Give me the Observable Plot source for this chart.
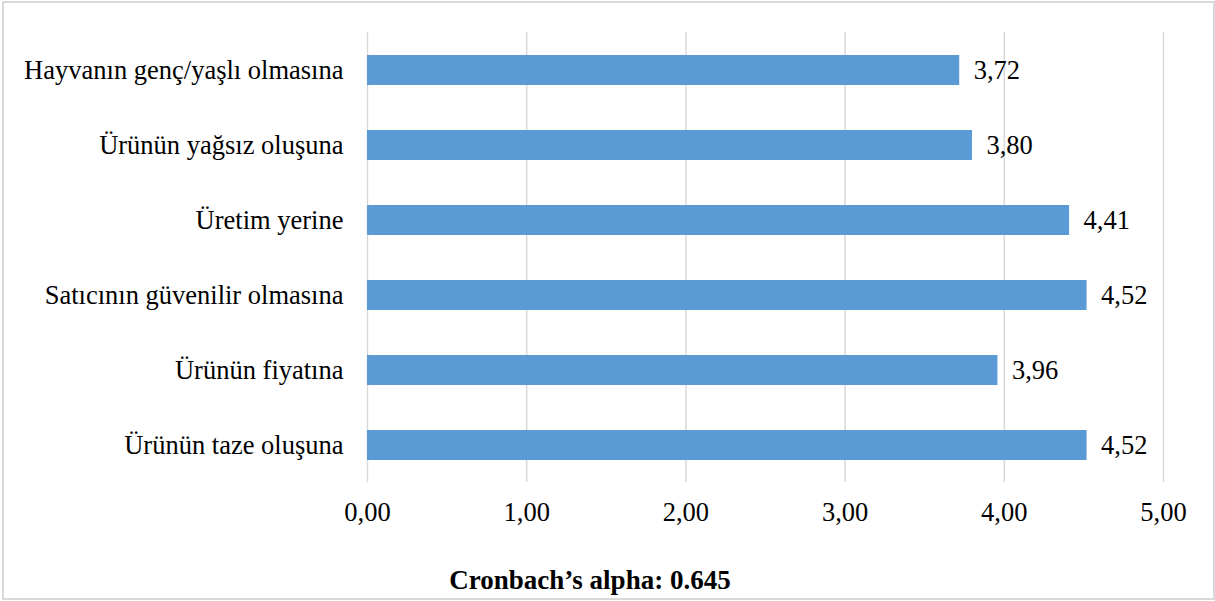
<!DOCTYPE html>
<html>
<head>
<meta charset="utf-8">
<script src="https://cdn.jsdelivr.net/npm/d3@7"></script>
<script src="https://cdn.jsdelivr.net/npm/@observablehq/plot@0.6"></script>
<style>
  html, body { margin: 0; padding: 0; background: #fff; }
  body { width: 1215px; height: 601px; position: relative; overflow: hidden; font-family: "Liberation Serif", "DejaVu Serif", serif; }
  #frame { position: absolute; left: 2px; top: 1px; width: 1209px; height: 595px; border: 2px solid #d9d9d9; }
  #chart { position: absolute; left: 0; top: 0; }
  #caption { position: absolute; left: 0; width: 1180px; top: 566px; line-height: 1.1; text-align: center; font-weight: bold; font-size: 27px; color: #000; font-family: "Liberation Serif", "DejaVu Serif", serif; }
  #chart svg, #chart svg text { font-family: "Liberation Serif", "DejaVu Serif", serif !important; }
</style>
</head>
<body>
<div id="frame"></div>
<div id="chart"></div>
<div id="caption">Cronbach’s alpha: 0.645</div>
<script>
const categories = [
  "Hayvanın genç/yaşlı olmasına",
  "Ürünün yağsız oluşuna",
  "Üretim yerine",
  "Satıcının güvenilir olmasına",
  "Ürünün fiyatına",
  "Ürünün taze oluşuna"
];
const values = [3.72, 3.80, 4.41, 4.52, 3.96, 4.52];
const xTicks = [0, 1, 2, 3, 4, 5];

const data = categories.map((c, i) => ({category: c, value: values[i]}));
const fmt = v => v.toFixed(2).replace(".", ",");

const chart = Plot.plot({
  width: 1215,
  height: 540,
  marginLeft: 367,
  marginRight: 52,
  marginTop: 32,
  marginBottom: 58,
  style: { fontSize: "26.5px", color: "#000", background: "transparent" },
  x: { domain: [0, 5], ticks: xTicks, tickFormat: fmt, label: null, tickSize: 0, tickPadding: 20 },
  y: { domain: categories, label: null, tickSize: 0, tickPadding: 24, paddingInner: 0.6, paddingOuter: 0.3 },
  marks: [
    Plot.ruleX(xTicks, { stroke: "#d9d9d9", strokeWidth: 1.5, strokeOpacity: 1 }),
    Plot.barX(data, { x: "value", y: "category", fill: "#5b9bd5" }),
    Plot.text(data, { x: "value", y: "category", text: d => fmt(d.value), textAnchor: "start", dx: 14, fontSize: 26.5, fill: "#000" })
  ]
});
document.getElementById("chart").appendChild(chart);
</script>
</body>
</html>
